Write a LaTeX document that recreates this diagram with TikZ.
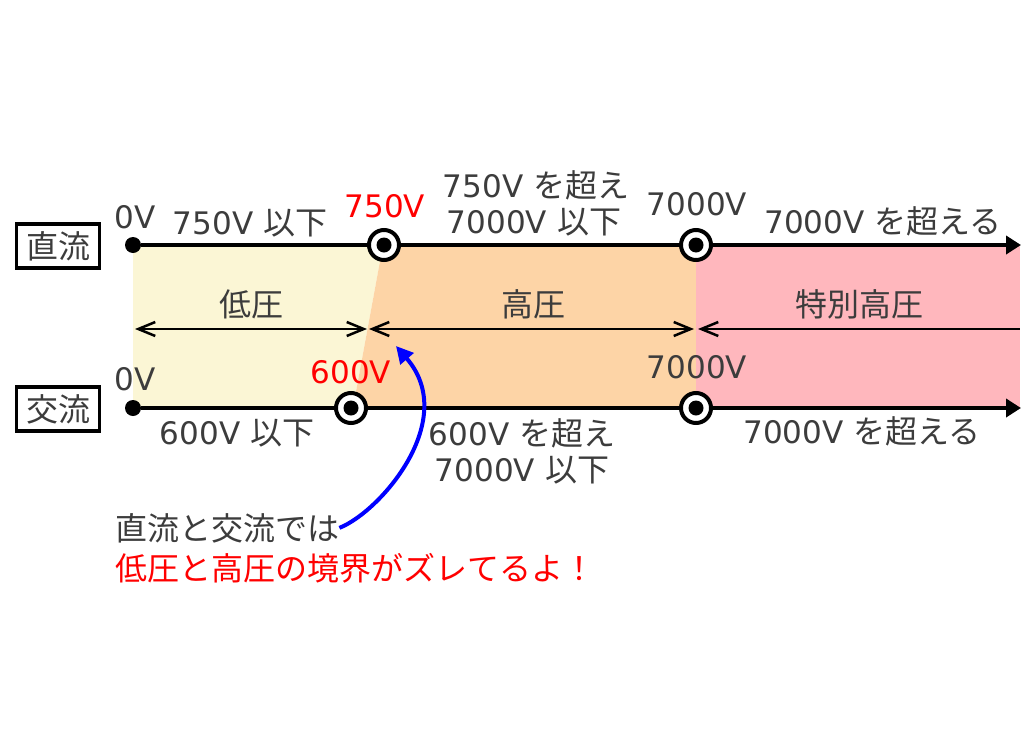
\documentclass[tikz,border=0pt]{standalone}
\usepackage{fontspec}
\setmainfont{Noto Sans CJK JP}
\newfontfamily\numfont{DejaVu Sans}[Scale=0.97]
\usetikzlibrary{arrows.meta}
\definecolor{txtgray}{HTML}{3C3C3C}
\definecolor{lowfill}{HTML}{FBF6D5}
\definecolor{highfill}{HTML}{FDD4A6}
\definecolor{extrafill}{HTML}{FFB7BD}
\tikzset{
  lbl/.style={anchor=base,inner sep=0pt,text=txtgray},
  redlbl/.style={lbl,text=red},
  startdot/.style={circle,fill=black,minimum size=16pt,inner sep=0pt},
  boundmark/.style={circle,draw,line width=4pt,fill=white,minimum size=30pt,inner sep=0pt,
    path picture={\fill[black] (path picture bounding box.center) circle (7.5pt);}},
  voltline/.style={line width=4pt},
  rangearrow/.style={line width=2.5pt},
  barb/.tip={Straight Barb[length=17pt,width=14pt]},
  kindbox/.style={draw,line width=3.5pt,minimum width=83pt,minimum height=44pt,inner sep=0pt,text=txtgray}
}
\begin{document}
\begin{tikzpicture}[x=1pt,y=-1pt,font=\fontsize{32}{38}\selectfont]
  \useasboundingbox (0,0) rectangle (1032,744);

  % voltage ranges
  \fill[lowfill] (133,245) -- (383,245) -- (353,408) -- (133,408) -- cycle;
  \fill[highfill] (383,245) -- (696,245) -- (696,408) -- (353,408) -- cycle;
  \fill[extrafill] (696,245) rectangle (1020,408);

  % 直流
  \node[kindbox] (dc) at (58,246) {直流};
  \node[startdot] (dc0) at (133,245) {};
  \node[boundmark] (dc750) at (384,245) {};
  \node[boundmark] (dc7000) at (696,245) {};
  \coordinate (dcend) at (1021,245);
  \draw[voltline] (dc0) -- (dc750);
  \draw[voltline] (dc750) -- (dc7000);
  \draw[voltline,-{Triangle[length=15pt,width=18pt]}] (dc7000) -- (dcend);

  % 交流
  \node[kindbox] (ac) at (58,409) {交流};
  \node[startdot] (ac0) at (133,408) {};
  \node[boundmark] (ac600) at (351,408) {};
  \node[boundmark] (ac7000) at (696,408) {};
  \coordinate (acend) at (1021,408);
  \draw[voltline] (ac0) -- (ac600);
  \draw[voltline] (ac600) -- (ac7000);
  \draw[voltline,-{Triangle[length=15pt,width=18pt]}] (ac7000) -- (acend);

  % labels
  \node[lbl] (dc0v) at (135,228) {\numfont 0V};
  \node[lbl] (dclow) at (250,234) {{\numfont 750V }以下};
  \node[redlbl] (dc750v) at (385,217) {\numfont 750V};
  \node[lbl] (dchigh1) at (536,197) {{\numfont 750V }を超え};
  \node[lbl] (dchigh2) at (534,233) {{\numfont 7000V }以下};
  \node[lbl] (dc7000v) at (697,215) {\numfont 7000V};
  \node[lbl] (dcextra) at (883,233) {{\numfont 7000V }を超える};
  \node[lbl] (ac0v) at (135,390) {\numfont 0V};
  \node[redlbl] (ac600v) at (351,383) {\numfont 600V};
  \node[lbl] (ac7000v) at (697,378) {\numfont 7000V};
  \node[lbl] (aclow) at (237,444) {{\numfont 600V }以下};
  \node[lbl] (achigh1) at (522,445) {{\numfont 600V }を超え};
  \node[lbl] (achigh2) at (522,481) {{\numfont 7000V }以下};
  \node[lbl] (acextra) at (862,443) {{\numfont 7000V }を超える};

  % 低圧・高圧・特別高圧
  \node[lbl] (lowname) at (251,316) {低圧};
  \node[lbl] (highname) at (533,316) {高圧};
  \node[lbl] (extraname) at (859,316) {特別高圧};
  \coordinate (lowL) at (135,329);
  \coordinate (lowR) at (367,329);
  \coordinate (highL) at (369,329);
  \coordinate (highR) at (694,329);
  \coordinate (extraL) at (698,329);
  \coordinate (extraR) at (1020,329);
  \draw[rangearrow,barb-barb] (lowL) -- (lowR);
  \draw[rangearrow,barb-barb] (highL) -- (highR);
  \draw[rangearrow,barb-] (extraL) -- (extraR);

  % note
  \node[lbl,anchor=base west] (note1) at (115,540) {直流と交流では};
  \node[redlbl,anchor=base west] (note2) at (115,580) {低圧と高圧の境界がズレてるよ！};
  \coordinate (bendtip) at (396,346);
  \draw[line width=4pt,blue,-{Triangle[length=17pt,width=17pt]}] (note1.east) .. controls (380,512) and (460,420) .. (bendtip);
\end{tikzpicture}
\end{document}
